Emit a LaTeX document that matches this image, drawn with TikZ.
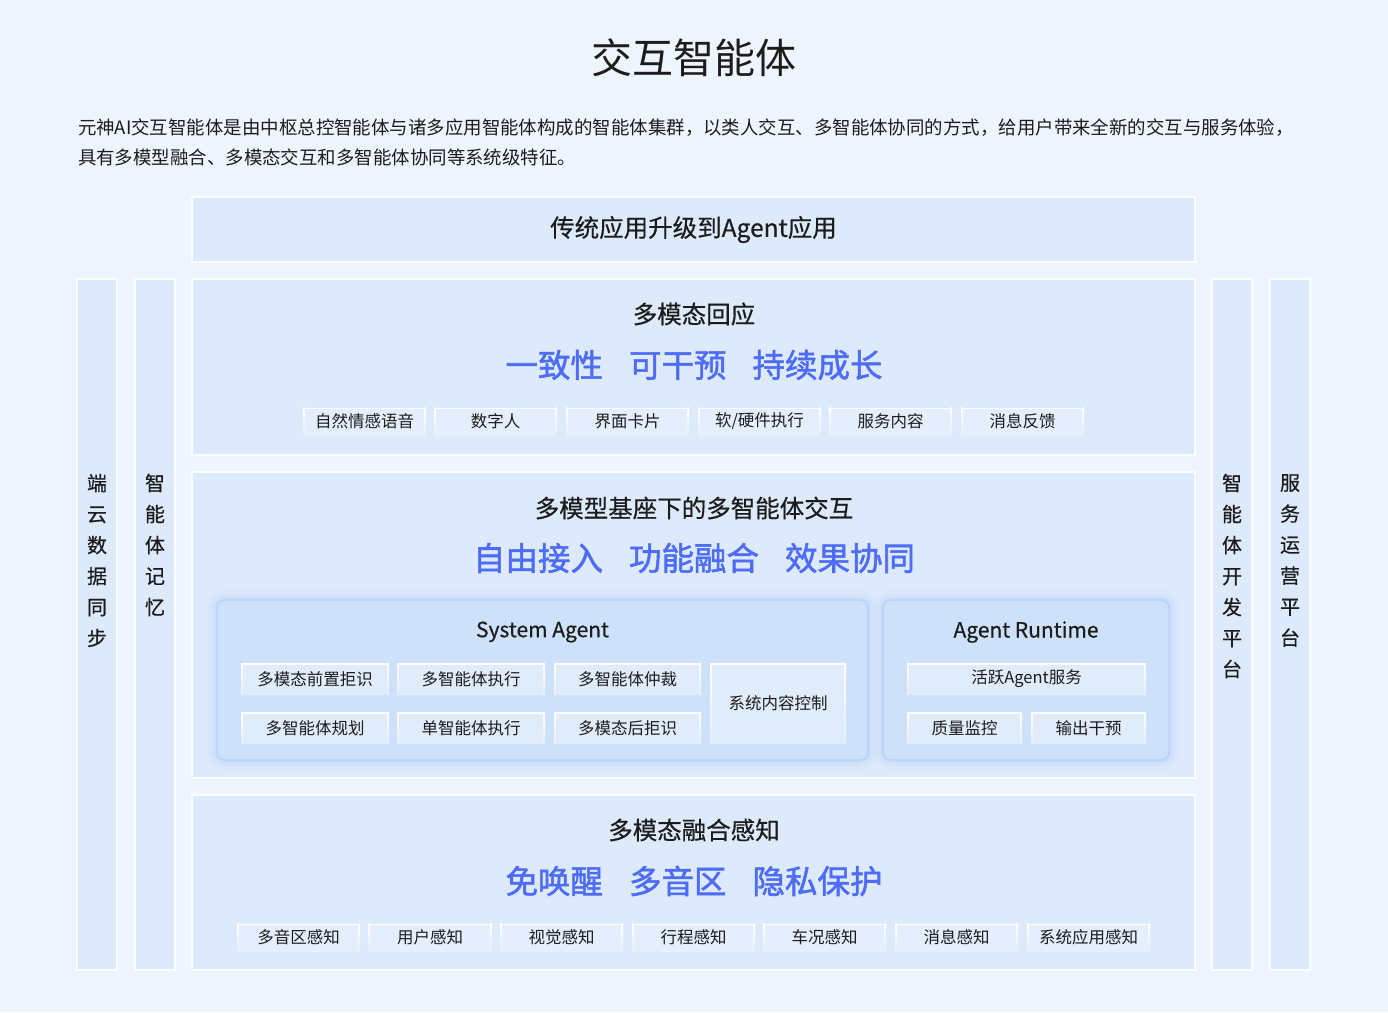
\documentclass[tikz,border=0pt]{standalone}
\usepackage{fontspec}
\setmainfont{Noto Sans CJK SC}
\newfontfamily\medf[FakeBold=0.5]{Noto Sans CJK SC}
\newfontfamily\bluef[FakeBold=1.6]{Noto Sans CJK SC}
\usetikzlibrary{positioning}
\definecolor{bgc}{HTML}{EEF5FE}
\definecolor{panelc}{HTML}{DDEAFC}
\definecolor{chipc}{HTML}{E4EEFC}
\definecolor{safill}{HTML}{CDE1FA}
\definecolor{saborder}{HTML}{B3D2F8}
\definecolor{glowc}{HTML}{9CC4F6}
\definecolor{ichipc}{HTML}{E1ECFB}
\definecolor{bluec}{HTML}{4E6CF5}
\definecolor{txtc}{HTML}{1C1C1C}
\newcommand\fsz[1]{\fontsize{#1}{#1}\selectfont}
\tikzset{
  every node/.style={inner sep=0pt, outer sep=0pt, text=txtc},
  panel/.style 2 args={draw=white, draw opacity=0.9, line width=1.2pt, fill=panelc,
    minimum width=#1pt, minimum height=#2pt},
  vcol/.style={draw=white, draw opacity=0.9, line width=1.2pt, fill=panelc,
    minimum width=40pt, minimum height=691pt},
  vtext/.style={align=center, font={\medf\fsz{20}\setlength{\baselineskip}{31pt}}},
  ptitle/.style={font=\medf\fsz{24.5}},
  bluetext/.style={font=\bluef\fsz{32.5}, text=bluec},
  chipbase/.style 2 args={minimum width=#1pt, minimum height=#2pt, font=\fsz{16.5},
    path picture={
      \fill[white] (path picture bounding box.north west) rectangle ([yshift=-1.5pt]path picture bounding box.north east);
      \shade[top color=white, bottom color=chipc] (path picture bounding box.north west) rectangle ([xshift=1.5pt]path picture bounding box.south west);
      \shade[top color=white, bottom color=chipc] (path picture bounding box.north east) rectangle ([xshift=-1.5pt]path picture bounding box.south east);
    }},
  chip/.style={chipbase={123}{28}, fill=chipc},
  ichip/.style 2 args={chipbase={#1}{#2}, fill=ichipc},
  glowbox/.style 2 args={draw=saborder, line width=1.2pt, fill=safill, rounded corners=8pt,
    minimum width=#1pt, minimum height=#2pt,
    preaction={draw=glowc, line width=20pt, draw opacity=0.06},
    preaction={draw=glowc, line width=12pt, draw opacity=0.09},
    preaction={draw=glowc, line width=5pt, draw opacity=0.18}},
  btitle/.style={font=\medf\fsz{21}},
}
\begin{document}
\begin{tikzpicture}[x=1pt,y=-1pt]
\useasboundingbox (0,0) rectangle (1388,1012);
\fill[bgc] (0,0) rectangle (1388,1012);

% title and description
\node[font=\fsz{41}] (title) at (694,58) {交互智能体};
\node[anchor=west, font=\fsz{18.45}] (desc1) at (78,128) {元神AI交互智能体是由中枢总控智能体与诸多应用智能体构成的智能体集群，以类人交互、多智能体协同的方式，给用户带来全新的交互与服务体验，};
\node[anchor=west, font=\fsz{18.45}] (desc2) at (78,157) {具有多模型融合、多模态交互和多智能体协同等系统级特征。};

% banner
\node[panel={1003}{65}, font=\medf\fsz{24.5}] (banner) at (693.5,229.5) {传统应用升级到Agent应用};

% side columns
\node[vcol] (c1) at (97,624.5) {};
\node[vcol] (c2) at (155,624.5) {};
\node[vcol] (c3) at (1232,624.5) {};
\node[vcol] (c4) at (1290,624.5) {};
\node[vtext] (t1) at (97,560.5) {端\\云\\数\\据\\同\\步};
\node[vtext] (t2) at (155,545) {智\\能\\体\\记\\忆};
\node[vtext] (t3) at (1232,576) {智\\能\\体\\开\\发\\平\\台};
\node[vtext] (t4) at (1290,560.5) {服\\务\\运\\营\\平\\台};

% panel 1
\node[panel={1003}{176}] (p1) at (693.5,367) {};
\node[ptitle] (p1t) at (694,314) {多模态回应};
\node[bluetext] (p1b) at (694,365) {一致性\hspace{26pt}可干预\hspace{26pt}持续成长};
\node[chip] (a1) at (364.5,421.5) {自然情感语音};
\node[chip] (a2) at (495.5,421.5) {数字人};
\node[chip] (a3) at (627.5,421.5) {界面卡片};
\node[chip] (a4) at (759.5,421.5) {软/硬件执行};
\node[chip] (a5) at (890.5,421.5) {服务内容};
\node[chip] (a6) at (1022.5,421.5) {消息反馈};

% panel 2
\node[panel={1003}{306}] (p2) at (693.5,625) {};
\node[ptitle] (p2t) at (694,508) {多模型基座下的多智能体交互};
\node[bluetext] (p2b) at (694,558) {自由接入\hspace{26pt}功能融合\hspace{26pt}效果协同};
\node[glowbox={651}{160}] (sa) at (542.5,680) {};
\node[btitle] (sat) at (542.5,632) {System Agent};
\node[ichip={148}{32}] (s1) at (315,679) {多模态前置拒识};
\node[ichip={148}{32}] (s2) at (471,679) {多智能体执行};
\node[ichip={147}{32}] (s3) at (627.5,679) {多智能体仲裁};
\node[ichip={148}{32}] (s4) at (315,728) {多智能体规划};
\node[ichip={148}{32}] (s5) at (471,728) {单智能体执行};
\node[ichip={147}{32}] (s6) at (627.5,728) {多模态后拒识};
\node[ichip={136}{81}] (s7) at (778,703.5) {系统内容控制};
\node[glowbox={286}{160}] (ar) at (1026,680) {};
\node[btitle] (art) at (1026,632) {Agent Runtime};
\node[ichip={239}{32}] (r1) at (1026.5,679) {活跃Agent服务};
\node[ichip={115}{32}] (r2) at (964.5,728) {质量监控};
\node[ichip={115}{32}] (r3) at (1088.5,728) {输出干预};

% panel 3
\node[panel={1003}{175}] (p3) at (693.5,882.5) {};
\node[ptitle] (p3t) at (694,830) {多模态融合感知};
\node[bluetext] (p3b) at (694,881) {免唤醒\hspace{26pt}多音区\hspace{26pt}隐私保护};
\node[chip] (b1) at (298.5,937.5) {多音区感知};
\node[chip] (b2) at (430,937.5) {用户感知};
\node[chip] (b3) at (561.5,937.5) {视觉感知};
\node[chip] (b4) at (693.5,937.5) {行程感知};
\node[chip] (b5) at (824.5,937.5) {车况感知};
\node[chip] (b6) at (956.5,937.5) {消息感知};
\node[chip] (b7) at (1088.5,937.5) {系统应用感知};
\end{tikzpicture}
\end{document}
